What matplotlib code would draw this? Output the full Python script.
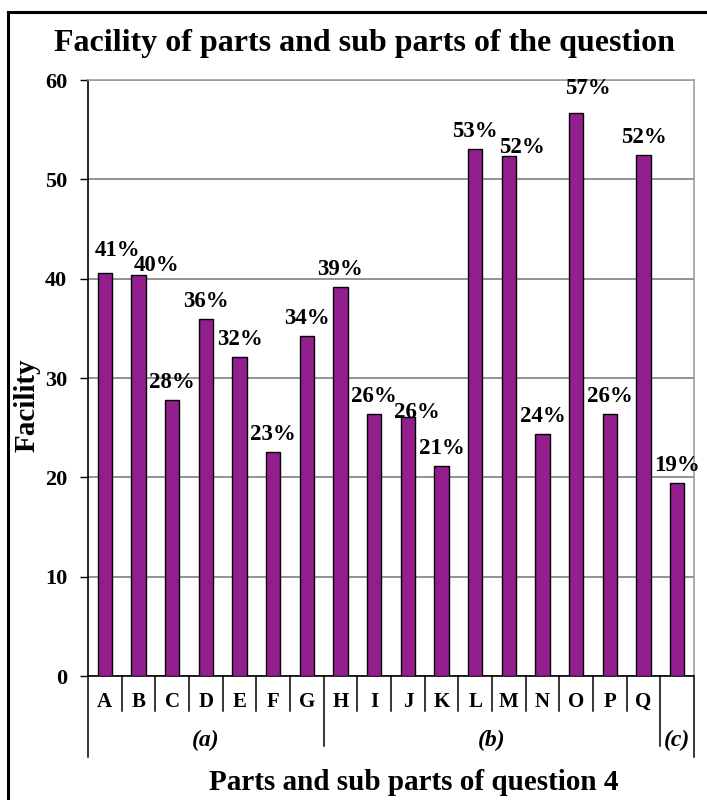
import numpy as np
import matplotlib
matplotlib.use('Agg')
import matplotlib.pyplot as plt
from matplotlib.patches import Rectangle

plt.rcParams['font.family'] = ['Liberation Serif', 'DejaVu Serif']
plt.rcParams['font.weight'] = 'bold'

# data
letters = ['A', 'B', 'C', 'D', 'E', 'F', 'G', 'H', 'I', 'J', 'K', 'L', 'M', 'N', 'O', 'P', 'Q', '']
facility = [40.6, 40.4, 27.8, 35.9, 32.1, 22.6, 34.2, 39.2, 26.4, 26.1, 21.1,
            53.1, 52.3, 24.4, 56.7, 26.4, 52.4, 19.4]
groups = ['(a)', '(b)', '(c)']
group_sizes = [7, 10, 1]

# label nudges in pixels (dx, gap above bar top) - some labels were dragged in the original
nudge = {0: (13, 17), 1: (18, 4), 9: (9, -1), 12: (13, 3), 14: (12, 19)}

W, H = 707, 800
fig = plt.figure(figsize=(W / 100, H / 100), dpi=100)
ax = fig.add_axes([88 / W, 124 / H, 606 / W, 596 / H])

x = np.arange(len(facility))
ax.bar(x, facility, width=0.42, color='#931F8F', edgecolor='black', linewidth=1.0, zorder=3)

for i, v in enumerate(facility):
    dx, gap = nudge.get(i, (0, 12))
    ax.annotate(f'{round(v)}%', (i, v), xytext=(dx, gap), textcoords='offset pixels',
                ha='center', va='baseline', fontsize=16.5, fontweight='bold', zorder=4)

ax.set_xlim(-0.5, len(facility) - 0.5)
ax.set_ylim(0, 60)
ax.set_yticks(range(0, 61, 10))
ax.yaxis.grid(True, color='#808080', linewidth=1.2)
ax.set_axisbelow(True)
ax.set_xticks([])
ax.tick_params(axis='y', direction='out', length=6, width=1, pad=9, labelsize=16)
for lab in ax.get_yticklabels():
    lab.set_fontweight('bold')

ax.spines['left'].set_color('black')
ax.spines['bottom'].set_color('black')
ax.spines['left'].set_linewidth(1.2)
ax.spines['bottom'].set_linewidth(1.2)
for s in ['top', 'right']:
    ax.spines[s].set_color('#A0A0A0')
    ax.spines[s].set_linewidth(1.2)

# multi-level category axis
tr = ax.get_xaxis_transform()
ah = 596.0
for i, lab in enumerate(letters):
    ax.text(i, -26 / ah, lab, transform=tr, ha='center', va='center',
            fontsize=15, fontweight='bold')

bounds = np.concatenate([[0], np.cumsum(group_sizes)])
group_edges = set(bounds.tolist())
for b in range(len(facility) + 1):
    if b == 0 or b == len(facility):
        d = 81
    elif b in group_edges:
        d = 70
    else:
        d = 35
    ax.plot([b - 0.5, b - 0.5], [0, -d / ah], transform=tr, color='black',
            linewidth=1.1, clip_on=False)

for g, lo, hi in zip(groups, bounds[:-1], bounds[1:]):
    ax.text((lo + hi - 1) / 2, -64 / ah, g, transform=tr, ha='center', va='center',
            fontsize=17, fontweight='bold', fontstyle='italic')

fig.text(364 / W, 1 - 44 / H, 'Facility of parts and sub parts of the question',
         ha='center', va='center', fontsize=23, fontweight='bold')
fig.text(414 / W, 1 - 783 / H, 'Parts and sub parts of question 4',
         ha='center', va='center', fontsize=21, fontweight='bold')
fig.text(27 / W, 1 - 405 / H, 'Facility', rotation=90,
         ha='center', va='center', fontsize=21, fontweight='bold')

# outer chart frame (runs off the right and bottom edge)
fig.patches.append(Rectangle((8 / W, -0.05), 1.0, 1 - 12 / H + 0.05, transform=fig.transFigure,
                             fill=False, edgecolor='black', linewidth=2.2))

fig.savefig('out.png', dpi=100)
